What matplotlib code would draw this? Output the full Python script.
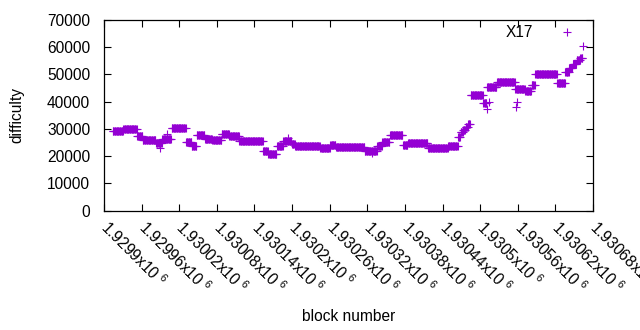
import numpy as np
import matplotlib
matplotlib.use("Agg")
import matplotlib.pyplot as plt
from matplotlib.ticker import FixedLocator

plt.rcParams['font.family'] = ['Liberation Sans', 'DejaVu Sans']
plt.rcParams['mathtext.default'] = 'regular'

BASE = 1929900
# runs of (almost) constant difficulty: block offsets from BASE
run_first = [14, 31, 53, 62, 83, 93, 108, 131, 140, 148, 161, 173, 188, 200, 216,
             254, 262, 276, 286, 300, 305, 345, 361, 370, 416, 436, 444, 456, 477,
             485, 517, 549, 565, 569, 573, 577, 581, 585, 605, 611, 627, 656, 672,
             682, 688, 723, 736, 742, 748, 754, 760]
run_last = [30, 52, 61, 82, 92, 107, 130, 139, 147, 160, 172, 187, 199, 215, 253,
            261, 275, 285, 299, 304, 344, 360, 369, 415, 435, 443, 455, 476, 484,
            516, 548, 564, 568, 572, 576, 580, 584, 604, 610, 626, 655, 671, 681,
            687, 722, 735, 741, 747, 753, 759, 763]
run_value = [29300, 30000, 27600, 25800, 24700, 26500, 30400, 25400, 23800, 27800,
             26300, 25900, 28300, 27500, 25600, 22000, 20700, 23800, 25600, 24600,
             23700, 22900, 24000, 23300, 22000, 23900, 25200, 27800, 24100, 24800,
             23000, 23700, 27000, 28800, 29800, 30800, 32000, 42300, 39500, 45300,
             47100, 44500, 43800, 46000, 50000, 46700, 51000, 52500, 54000, 55200,
             56000]
# isolated points
single_offset = [90, 100, 294, 428, 611, 614, 657, 659, 764]
single_value = [23000, 28200, 26800, 21300, 37300, 40000, 38000, 40000, 60400]

blocks = []
values = []
for a, b, v in zip(run_first, run_last, run_value):
    for k in range(a, b + 1):
        blocks.append(BASE + k)
        values.append(v)
for k, v in zip(single_offset, single_value):
    blocks.append(BASE + k)
    values.append(v)

x_ticks = [BASE + 60 * i for i in range(14)]
x_labels = ["1.9299x10 $^{6}$", "1.92996x10 $^{6}$", "1.93002x10 $^{6}$", "1.93008x10 $^{6}$",
            "1.93014x10 $^{6}$", "1.9302x10 $^{6}$", "1.93026x10 $^{6}$", "1.93032x10 $^{6}$",
            "1.93038x10 $^{6}$", "1.93044x10 $^{6}$", "1.9305x10 $^{6}$", "1.93056x10 $^{6}$",
            "1.93062x10 $^{6}$", "1.93068x10 $^{6}$"]
y_ticks = [0, 10000, 20000, 30000, 40000, 50000, 60000, 70000]

FS = 11.2
color = '#9400D3'
fig = plt.figure(figsize=(6.4, 3.3), dpi=100)
ax = fig.add_axes([104/640, 1 - 210.7/330, (593-104)/640, (210.7-20)/330])
ax.plot(blocks, values, linestyle='none', marker='+', markersize=5.2,
        markeredgewidth=0.8, color=color, label='X17')
ax.set_xlim(x_ticks[0], x_ticks[-1])
ax.set_ylim(0, 70000)
ax.xaxis.set_major_locator(FixedLocator(x_ticks))
ax.set_xticklabels(x_labels, rotation=-45, ha='left', va='center', rotation_mode='anchor')
ax.set_yticks(y_ticks)
ax.set_yticklabels([str(v) for v in y_ticks])
ax.tick_params(direction='in', top=True, right=True, length=5, width=0.8,
               labelsize=FS)
ax.tick_params(axis='y', pad=10)
ax.tick_params(axis='x', pad=10)
for s in ax.spines.values():
    s.set_linewidth(0.9)
ax.set_xlabel('block number', fontsize=FS, labelpad=9)
ax.set_ylabel('difficulty', fontsize=FS, labelpad=16)
ax.legend(loc='upper right', frameon=False, markerfirst=False, fontsize=FS,
          handlelength=2.0, handletextpad=1.2, borderaxespad=0.3,
          bbox_to_anchor=(1.001, 1.03))
fig.savefig('out.png', dpi=100)
